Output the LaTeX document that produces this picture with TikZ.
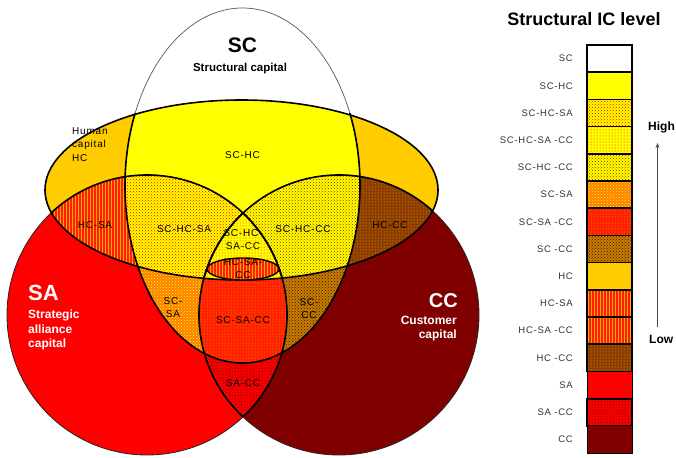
\documentclass[tikz,border=0pt]{standalone}
\usepackage{fontspec}
\setmainfont{Liberation Sans}
\newfontfamily\labfont[LetterSpace=8]{Liberation Sans}
\usetikzlibrary{patterns,arrows.meta}
\definecolor{yel}{HTML}{FFFF00}
\definecolor{gold}{HTML}{FFCC00}
\definecolor{orng}{HTML}{FF8000}
\definecolor{redor}{HTML}{FF2000}
\definecolor{lightor}{HTML}{FFA800}
\definecolor{ochre}{HTML}{C08000}
\definecolor{brownd}{HTML}{8B3A00}
\definecolor{brownl}{HTML}{993300}
\definecolor{darkr}{HTML}{800000}
\definecolor{darkrr}{HTML}{600000}
\definecolor{sared}{HTML}{FF0000}
\tikzset{
  rSC/.style={fill=white},
  rSCHC/.style={fill=yel},
  rSCHCSA/.style={preaction={fill=yel}, pattern=crosshatch dots, pattern color=sared},
  rQuad/.style={preaction={fill=yel}, pattern=dots, pattern color=sared},
  rSCHCCC/.style={preaction={fill=yel}, pattern=crosshatch dots, pattern color=brownl},
  rSCSA/.style={preaction={fill=orng}, pattern=crosshatch dots, pattern color=yel},
  rSCSACC/.style={preaction={fill=redor}, pattern=dots, pattern color=lightor},
  rSCCC/.style={preaction={fill=ochre}, pattern=crosshatch dots, pattern color=darkrr},
  rHC/.style={fill=gold},
  rHCSA/.style={preaction={fill=redor}, pattern=vertical lines, pattern color=lightor},
  rHCCC/.style={preaction={fill=brownd}, pattern=dots, pattern color=gold},
  rSA/.style={fill=sared},
  rSACC/.style={preaction={fill=sared}, pattern=crosshatch dots, pattern color=darkr},
  rCC/.style={fill=darkr},
  thickline/.style={draw=black, line width=1.6pt},
  thinline/.style={draw=black!85, line width=0.8pt},
  reglab/.style={font=\labfont\fontsize{10}{13}\selectfont, align=center, inner sep=0pt},
  lbox/.style={draw=black, line width=1.5pt, minimum width=45pt, minimum height=27.2pt, inner sep=0pt},
  ltext/.style={font=\labfont\fontsize{9.5}{10}\selectfont, text=black!80, anchor=east, inner sep=0pt},
}
\newcommand\shSC[1]{\path[#1] (242.5,185.5) ellipse [x radius=117.5pt, y radius=177.5pt];}
\newcommand\shHC[1]{\path[#1] (241.5,190) ellipse [x radius=196.5pt, y radius=90pt];}
\newcommand\shSA[1]{\path[#1] (147,315) circle [radius=140pt];}
\newcommand\shCC[1]{\path[#1] (339,315) circle [radius=140pt];}
\begin{document}
\begin{tikzpicture}[x=1pt,y=-1pt]
\useasboundingbox (0,0) rectangle (676,457);
\fill[white] (0,0) rectangle (676,457);
% singletons
\shHC{rHC}
\shSA{rSA}
\shCC{rCC}
% pairs
\begin{scope}\shSC{clip}\shHC{rSCHC}\end{scope}
\begin{scope}\shSC{clip}\shSA{rSCSA}\end{scope}
\begin{scope}\shSC{clip}\shCC{rSCCC}\end{scope}
\begin{scope}\shHC{clip}\shSA{rHCSA}\end{scope}
\begin{scope}\shHC{clip}\shCC{rHCCC}\end{scope}
\begin{scope}\shSA{clip}\shCC{rSACC}\end{scope}
% triples
\begin{scope}\shSC{clip}\shHC{clip}\shSA{rSCHCSA}\end{scope}
\begin{scope}\shSC{clip}\shHC{clip}\shCC{rSCHCCC}\end{scope}
\begin{scope}\shSC{clip}\shSA{clip}\shCC{rSCSACC}\end{scope}
% quadruple
\begin{scope}\shSC{clip}\shHC{clip}\shSA{clip}\shCC{rQuad}\end{scope}
% outlines
\shSA{thinline}
\shCC{thinline}
\begin{scope}\shHC{clip}\shSA{thickline}\shCC{thickline}\end{scope}
\begin{scope}\shCC{clip}\shSA{thickline}\end{scope}
\begin{scope}\shSA{clip}\shCC{thickline}\end{scope}
\shHC{thickline}
\shSC{draw=black!65, line width=0.7pt}
\begin{scope}\clip (0,114) rectangle (676,457); \shSC{thickline}\end{scope}
% small extra ellipse
\path[rHCSA, draw=black, line width=1.4pt] (243,269) ellipse [x radius=36pt, y radius=11pt];
% labels in Venn
\node[font=\bfseries\fontsize{21}{24}\selectfont, anchor=base, inner sep=0pt] (tSC) at (242.5,53) {SC};
\node[font=\bfseries\fontsize{11.5}{13}\selectfont, anchor=base, inner sep=0pt] (tSCsub) at (240,72) {Structural capital};
\node[font=\labfont\fontsize{10}{13.5}\selectfont, align=left, anchor=north west, inner sep=0pt] (tHC) at (72,127) {Human\\capital\\HC};
\node[reglab] (lSCHC) at (242.5,155.5) {SC-HC};
\node[reglab] (lHCSA) at (95,225) {HC-SA};
\node[reglab] (lSCHCSA) at (184,229) {SC-HC-SA};
\node[reglab] (lQuad) at (243,240) {SC-HC-\\SA-CC};
\node[reglab] (lHCSACC) at (243,268.5) {HC-SA-\\CC};
\node[reglab] (lSCHCCC) at (303,229) {SC-HC-CC};
\node[reglab] (lHCCC) at (390,225) {HC-CC};
\node[reglab] (lSCSA) at (173,307.5) {SC-\\SA};
\node[reglab] (lSCSACC) at (243,320) {SC-SA-CC};
\node[reglab] (lSCCC) at (309,309) {SC-\\CC};
\node[reglab] (lSACC) at (243,383) {SA-CC};
\node[font=\bfseries\fontsize{22}{24}\selectfont, text=white, anchor=base west, inner sep=0pt] (tSA) at (28,300) {SA};
\node[font=\bfseries\fontsize{12}{15}\selectfont, text=white, anchor=base west, inner sep=0pt] (tSA1) at (28,318) {Strategic};
\node[font=\bfseries\fontsize{12}{15}\selectfont, text=white, anchor=base west, inner sep=0pt] (tSA2) at (28,333) {alliance};
\node[font=\bfseries\fontsize{12}{15}\selectfont, text=white, anchor=base west, inner sep=0pt] (tSA3) at (28,347.5) {capital};
\node[font=\bfseries\fontsize{20}{24}\selectfont, text=white, anchor=base east, inner sep=0pt] (tCC) at (458,307) {CC};
\node[font=\bfseries\fontsize{12}{15}\selectfont, text=white, anchor=base east, inner sep=0pt] (tCC1) at (457,324) {Customer};
\node[font=\bfseries\fontsize{12}{15}\selectfont, text=white, anchor=base east, inner sep=0pt] (tCC2) at (457,338) {capital};
% legend
\node[font=\bfseries\fontsize{18}{20}\selectfont, anchor=base, inner sep=0pt] (ltitle) at (584,26) {Structural IC level};
\node[lbox, rSC]     (b0)  at (609.5,58.6)  {};
\node[lbox, rSCHC]   (b1)  at (609.5,85.8)  {};
\node[lbox, rSCHCSA] (b2)  at (609.5,113.0) {};
\node[lbox, rQuad]   (b3)  at (609.5,140.2) {};
\node[lbox, rSCHCCC] (b4)  at (609.5,167.4) {};
\node[lbox, rSCSA]   (b5)  at (609.5,194.6) {};
\node[lbox, rSCSACC] (b6)  at (609.5,221.8) {};
\node[lbox, rSCCC]   (b7)  at (609.5,249.0) {};
\node[lbox, rHC]     (b8)  at (609.5,276.2) {};
\node[lbox, rHCSA]   (b9)  at (609.5,303.4) {};
\node[lbox, rHCSA]   (b10) at (609.5,330.6) {};
\node[lbox, rHCCC]   (b11) at (609.5,357.8) {};
\node[lbox, rSA, line width=1pt]    (b12) at (609.5,385.0) {};
\node[lbox, rSACC, line width=2pt]  (b13) at (609.5,412.2) {};
\node[lbox, rCC, line width=1pt]    (b14) at (609.5,439.4) {};
\node[ltext] (t0)  at (573,58.6)  {SC};
\node[ltext] (t1)  at (573,85.8)  {SC-HC};
\node[ltext] (t2)  at (573,113.0) {SC-HC-SA};
\node[ltext] (t3)  at (573,140.2) {SC-HC-SA -CC};
\node[ltext] (t4)  at (573,167.4) {SC-HC -CC};
\node[ltext] (t5)  at (573,194.6) {SC-SA};
\node[ltext] (t6)  at (573,221.8) {SC-SA -CC};
\node[ltext] (t7)  at (573,249.0) {SC -CC};
\node[ltext] (t8)  at (573,276.2) {HC};
\node[ltext] (t9)  at (573,303.4) {HC-SA};
\node[ltext] (t10) at (573,330.6) {HC-SA -CC};
\node[ltext] (t11) at (573,357.8) {HC -CC};
\node[ltext] (t12) at (573,385.0) {SA};
\node[ltext] (t13) at (573,412.2) {SA -CC};
\node[ltext] (t14) at (573,439.4) {CC};
\node[font=\bfseries\fontsize{12}{14}\selectfont, anchor=base west, inner sep=0pt] (high) at (648,131) {High};
\node[font=\bfseries\fontsize{12}{14}\selectfont, anchor=base west, inner sep=0pt] (low) at (649,343) {Low};
\coordinate (lowend) at (657.5,327);
\coordinate (highend) at (657.5,143);
\draw[-{Stealth[length=5pt,width=4pt]}, line width=0.8pt, black!70] (lowend) -- (highend);
\end{tikzpicture}
\end{document}
